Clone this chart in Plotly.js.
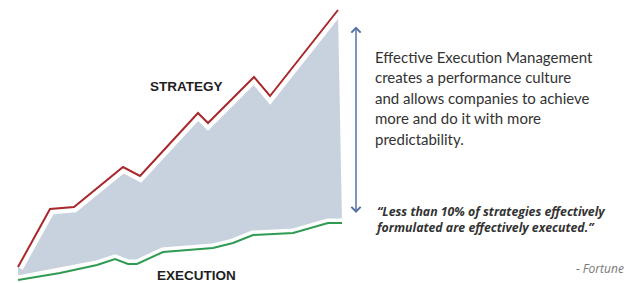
<!DOCTYPE html>
<html><head><meta charset="utf-8">
<script src="https://cdn.plot.ly/plotly-3.0.1.min.js"></script>
<style>html,body{margin:0;padding:0;background:#fff}#c{width:637px;height:283px}</style>
</head><body><div id="c"></div>
<script>
// Strategy line (x in chart units, y height from bottom)
const strategyX = [18, 50, 74, 123, 140, 198, 208, 254, 270, 338];
const strategyY = [16, 74, 76, 116, 107, 170, 160, 206, 187, 273];
// Execution line
const executionX = [18, 60, 97, 115, 128, 137, 163, 213, 233, 253, 293, 328, 342];
const executionY = [3, 10, 18, 24, 19, 19, 31, 35, 40, 48, 50, 60, 60];

const labels = ["STRATEGY", "EXECUTION"];
const bodyLines = ["Effective Execution Management", "creates a performance culture",
  "and allows companies to achieve", "more and do it with more", "predictability."];
const quoteLines = ["\u201cLess than 10% of strategies effectively", "formulated are effectively executed.\u201d"];
const source = "- Fortune";

const traces = [
  {x: executionX, y: executionY, mode: 'lines', line: {width: 0, color: 'rgba(0,0,0,0)'}, hoverinfo: 'skip'},
  {x: strategyX, y: strategyY, mode: 'lines', fill: 'tonexty', fillcolor: '#c8d2df', line: {width: 0, color: 'rgba(0,0,0,0)'}, hoverinfo: 'skip'},
  {x: strategyX, y: strategyY, mode: 'lines', line: {width: 11, color: '#ffffff'}},
  {x: executionX, y: executionY, mode: 'lines', line: {width: 9, color: '#ffffff'}},
  {x: strategyX, y: strategyY, mode: 'lines', line: {width: 2, color: '#a8282c'}},
  {x: executionX, y: executionY, mode: 'lines', line: {width: 2, color: '#2f9a52'}}
];

const anns = [];
anns.push({x: 356, y: 70, ax: 356, ay: 258, xref: 'x', yref: 'y', axref: 'x', ayref: 'y',
  showarrow: true, arrowside: 'end+start', arrowhead: 4, arrowsize: 1.2, arrowwidth: 1.5, arrowcolor: '#5672a4', text: ''});
anns.push({x: 186, y: 283 - 86, xref: 'x', yref: 'y', text: labels[0], showarrow: false,
  font: {family: 'Liberation Sans, Arial', size: 13.5, color: '#1e1e1e', weight: 'bold'}});
anns.push({x: 196, y: 283 - 275, xref: 'x', yref: 'y', text: labels[1], showarrow: false,
  font: {family: 'Liberation Sans, Arial', size: 13.5, color: '#1e1e1e', weight: 'bold'}});
bodyLines.forEach((t, i) => anns.push({x: 373, y: 283 - (57 + i * 20.4), xref: 'x', yref: 'y', text: t,
  xanchor: 'left', showarrow: false, font: {family: 'Lato', size: 15, color: '#333'}}));
anns.push({x: 373, y: 283 - 219.5, xref: 'x', yref: 'y',
  text: quoteLines.map(t => '<b><i>' + t + '</i></b>').join('<br>'), xanchor: 'left', align: 'left',
  showarrow: false, font: {family: 'Open Sans', size: 12.3, color: '#333'}});
anns.push({x: 626, y: 283 - 268, xref: 'x', yref: 'y', text: '<i>' + source + '</i>', xanchor: 'right',
  showarrow: false, font: {family: 'Open Sans', size: 12, color: '#777'}});

const layout = {
  width: 637, height: 283, margin: {l: 0, r: 0, t: 0, b: 0},
  paper_bgcolor: '#fff', plot_bgcolor: '#fff', showlegend: false,
  xaxis: {range: [0, 637], visible: false, fixedrange: true},
  yaxis: {range: [0, 283], visible: false, fixedrange: true},
  annotations: anns
};
Plotly.newPlot('c', traces, layout, {staticPlot: true});
</script></body></html>
